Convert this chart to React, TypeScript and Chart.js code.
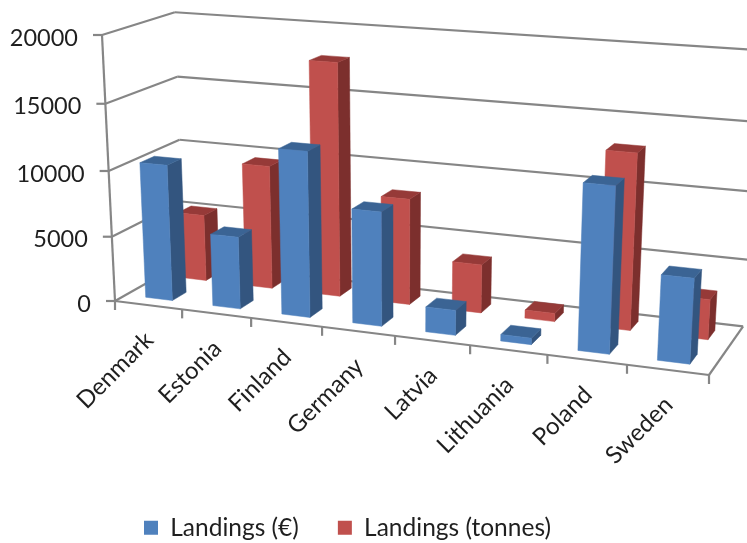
import React, { useEffect, useRef } from "react";
import { Chart, registerables } from "chart.js";

Chart.register(...registerables);

const categories = ["Denmark", "Estonia", "Finland", "Germany", "Latvia", "Lithuania", "Poland", "Sweden"];
const landingsEuro = [10400, 5500, 12400, 8500, 1860, 480, 11960, 6100];
const landingsTonnes = [5200, 9560, 17800, 8080, 3680, 620, 13000, 2960];

const FONT = "Lato";
const TEXT = "#1f1f1f";
const AXIS = "#868686";

// Faces of each prism: front, top, side.
const BLUE = { front: "#4f81bd", top: "#3b6494", side: "#33557f" };
const RED = { front: "#c0504d", top: "#963a38", side: "#7c2f2d" };

// Depth slots along the floor, one row per series.
const ROWS = [
  { near: 0.15, far: 0.35, colors: BLUE },
  { near: 0.65, far: 0.85, colors: RED },
];

// Projective camera for the unit box: origin and the three edge ends, with their weights.
const O = [115, 301];
const U = [709, 375];
const V = [102, 35];
const D = [184, 262];
const WU = 0.892;
const WV = 0.956;
const WD = 1.069;

function project(u: number, v: number, d: number): [number, number] {
  const w = 1 + u * (WU - 1) + v * (WV - 1) + d * (WD - 1);
  const c = (i: number) =>
    (O[i] + u * (WU * U[i] - O[i]) + v * (WV * V[i] - O[i]) + d * (WD * D[i] - O[i])) / w;
  return [c(0), c(1)];
}

function line(ctx: CanvasRenderingContext2D, a: [number, number], b: [number, number]) {
  ctx.beginPath();
  ctx.moveTo(a[0], a[1]);
  ctx.lineTo(b[0], b[1]);
  ctx.stroke();
}

function face(ctx: CanvasRenderingContext2D, pts: [number, number][], fill: string) {
  ctx.beginPath();
  pts.forEach((p, i) => (i ? ctx.lineTo(p[0], p[1]) : ctx.moveTo(p[0], p[1])));
  ctx.closePath();
  ctx.fillStyle = fill;
  ctx.fill();
  ctx.strokeStyle = fill;
  ctx.lineWidth = 0.5;
  ctx.stroke();
}

const box3d = {
  id: "box3d",
  beforeDatasetsDraw(chart: any) {
    const { ctx } = chart;
    const xs = chart.scales.x;
    const ys = chart.scales.y;
    const uOf = (px: number) => (px - xs.left) / (xs.right - xs.left);
    const vOf = (py: number) => (ys.bottom - py) / (ys.bottom - ys.top);

    ctx.save();
    ctx.strokeStyle = AXIS;
    ctx.lineWidth = 2.2;

    // Value gridlines on the side and back walls, with tick marks and labels.
    ctx.font = `23.5px ${FONT}`;
    ctx.fillStyle = TEXT;
    ctx.textAlign = "right";
    ctx.textBaseline = "middle";
    ys.ticks.forEach((tick: any) => {
      const v = vOf(ys.getPixelForValue(tick.value));
      const front = project(0, v, 0);
      const corner = project(0, v, 1);
      line(ctx, front, corner);
      line(ctx, corner, project(1, v, 1));
      line(ctx, [front[0] - 9, front[1]], front);
      ctx.fillText(String(tick.value), front[0] - 24, front[1] + 3);
    });

    // Vertical axis and floor outline.
    line(ctx, project(0, 0, 0), project(0, 1, 0));
    line(ctx, project(0, 0, 0), project(1, 0, 0));
    line(ctx, project(1, 0, 0), project(1, 0, 1));

    // Category ticks on the band edges, with slanted labels under each band.
    const band = (xs.right - xs.left) / categories.length;
    categories.forEach((_, i) => {
      const p = project(uOf(xs.left + band * i), 0, 0);
      line(ctx, p, [p[0], p[1] + 9]);
    });
    const last = project(1, 0, 0);
    line(ctx, last, [last[0], last[1] + 9]);

    ctx.font = `24px ${FONT}`;
    xs.ticks.forEach((tick: any, i: number) => {
      const p = project(uOf(xs.getPixelForTick(i)), 0, 0);
      ctx.save();
      ctx.translate(p[0] + 1, p[1] + 31);
      ctx.rotate(-Math.PI / 4);
      ctx.fillStyle = TEXT;
      ctx.fillText(categories[tick.value], 0, 0);
      ctx.restore();
    });
    ctx.restore();
  },
  beforeDatasetDraw() {
    // Prisms are painted together afterwards, back row first.
    return false;
  },
  afterDatasetsDraw(chart: any) {
    const { ctx } = chart;
    const xs = chart.scales.x;
    const ys = chart.scales.y;
    const uOf = (px: number) => (px - xs.left) / (xs.right - xs.left);
    const vOf = (py: number) => (ys.bottom - py) / (ys.bottom - ys.top);

    ctx.save();
    [1, 0].forEach((index) => {
      const { near, far, colors } = ROWS[index];
      chart.getDatasetMeta(index).data.forEach((bar: any) => {
        const u0 = uOf(bar.x - bar.width / 2);
        const u1 = uOf(bar.x + bar.width / 2);
        const v0 = vOf(bar.base);
        const v1 = vOf(bar.y);
        face(ctx, [project(u1, v0, near), project(u1, v0, far), project(u1, v1, far), project(u1, v1, near)], colors.side);
        face(ctx, [project(u0, v1, near), project(u1, v1, near), project(u1, v1, far), project(u0, v1, far)], colors.top);
        face(ctx, [project(u0, v0, near), project(u1, v0, near), project(u1, v1, near), project(u0, v1, near)], colors.front);
      });
    });
    ctx.restore();
  },
};

export default function App() {
  const ref = useRef<HTMLCanvasElement>(null);

  useEffect(() => {
    const chart = new Chart(ref.current!, {
      type: "bar",
      data: {
        labels: categories,
        datasets: [
          { label: "Landings (€)", data: landingsEuro, backgroundColor: BLUE.front, grouped: false },
          { label: "Landings (tonnes)", data: landingsTonnes, backgroundColor: RED.front, grouped: false },
        ],
      },
      plugins: [box3d],
      options: {
        responsive: false,
        animation: false,
        barPercentage: 0.4,
        categoryPercentage: 1,
        layout: { padding: { left: 105, bottom: -7 } },
        scales: {
          x: { display: false },
          y: { display: false, min: 0, max: 20000, ticks: { stepSize: 5000 } },
        },
        plugins: {
          tooltip: { enabled: false },
          legend: {
            position: "bottom",
            align: "start",
            labels: {
              boxWidth: 14,
              boxHeight: 14,
              padding: 39,
              color: TEXT,
              font: { family: FONT, size: 24.5 },
            },
          },
        },
      } as any,
    });
    return () => chart.destroy();
  }, []);

  return <canvas ref={ref} width={747} height={543} style={{ position: "absolute", left: 0, top: 0 }} />;
}
